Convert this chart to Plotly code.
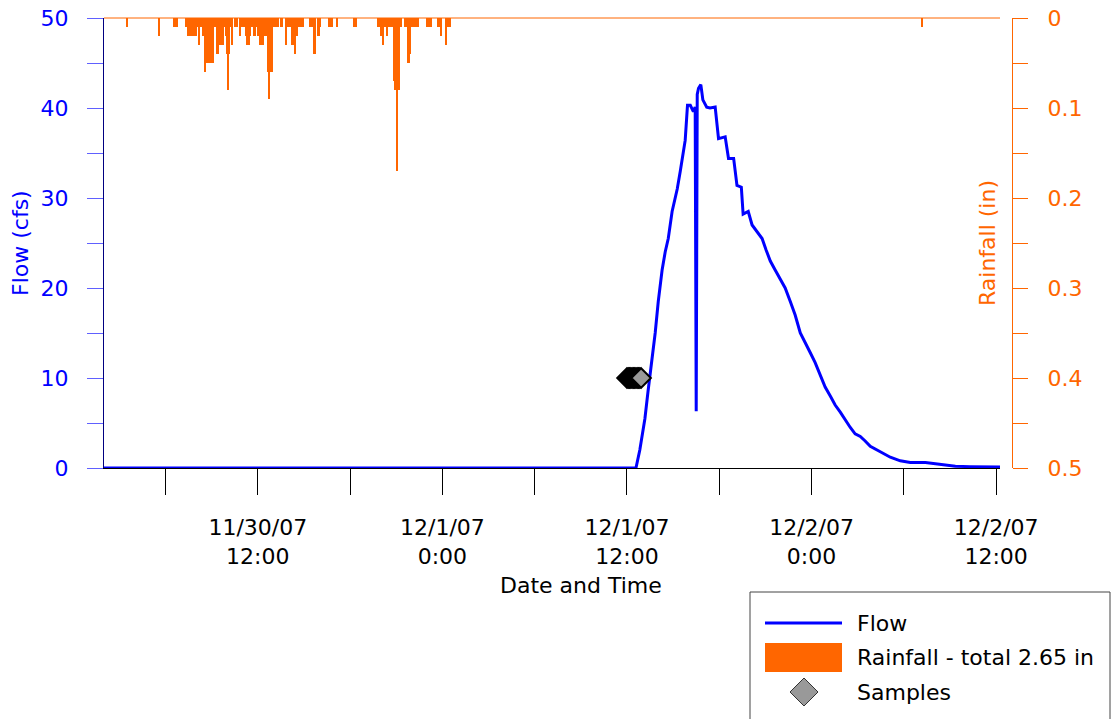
import plotly.graph_objects as go
import pandas as pd

# ---------------- data ----------------
flow_time = [
    "2007-11-30 02:00", "2007-12-01 12:35", "2007-12-01 12:50", "2007-12-01 13:10",
    "2007-12-01 13:22", "2007-12-01 13:38", "2007-12-01 13:50", "2007-12-01 14:02",
    "2007-12-01 14:17", "2007-12-01 14:29", "2007-12-01 14:41", "2007-12-01 14:56",
    "2007-12-01 15:16", "2007-12-01 15:28", "2007-12-01 15:39", "2007-12-01 15:47",
    "2007-12-01 15:56", "2007-12-01 16:07", "2007-12-01 16:19", "2007-12-01 16:26",
    "2007-12-01 16:30", "2007-12-01 16:34", "2007-12-01 16:39", "2007-12-01 16:48",
    "2007-12-01 16:56", "2007-12-01 17:11", "2007-12-01 17:24", "2007-12-01 17:44",
    "2007-12-01 17:57", "2007-12-01 18:23", "2007-12-01 18:36", "2007-12-01 18:56",
    "2007-12-01 19:09", "2007-12-01 19:26", "2007-12-01 19:33", "2007-12-01 19:53",
    "2007-12-01 20:08", "2007-12-01 20:28", "2007-12-01 20:47", "2007-12-01 21:03",
    "2007-12-01 21:19", "2007-12-01 21:38", "2007-12-01 21:58", "2007-12-01 22:17",
    "2007-12-01 22:37", "2007-12-01 22:56", "2007-12-01 23:16", "2007-12-01 23:35",
    "2007-12-01 23:55", "2007-12-02 00:14", "2007-12-02 00:34", "2007-12-02 00:53",
    "2007-12-02 01:13", "2007-12-02 01:32", "2007-12-02 01:52", "2007-12-02 02:11",
    "2007-12-02 02:31", "2007-12-02 02:50", "2007-12-02 03:10", "2007-12-02 03:29",
    "2007-12-02 03:49", "2007-12-02 04:28", "2007-12-02 05:07", "2007-12-02 05:46",
    "2007-12-02 06:25", "2007-12-02 07:24", "2007-12-02 08:22", "2007-12-02 09:21",
    "2007-12-02 10:19", "2007-12-02 12:15",
]
flow_cfs = [
    0.0, 0.0, 2.0, 5.5,
    8.5, 12.0, 15.0, 18.5,
    22.0, 24.0, 25.5, 28.5,
    31.0, 33.0, 35.3, 36.4,
    40.3, 40.3, 39.6, 40.1,
    6.3, 41.5, 42.2, 42.6,
    40.9, 40.1, 40.0, 40.1,
    36.6, 36.8, 34.4, 34.4,
    31.4, 31.2, 28.2, 28.5,
    27.0, 26.2, 25.5, 24.2,
    23.0, 22.0, 21.0, 20.0,
    18.5, 17.0, 15.0, 14.0,
    12.8, 11.7, 10.3, 9.0,
    8.0, 7.0, 6.2, 5.3,
    4.5, 3.8, 3.5, 3.0,
    2.4, 1.8, 1.2, 0.8,
    0.6, 0.6, 0.4, 0.2,
    0.15, 0.1,
]

sample_time = [
    "2007-12-01 12:00", "2007-12-01 12:05", "2007-12-01 12:10", "2007-12-01 12:15",
    "2007-12-01 12:20", "2007-12-01 12:25", "2007-12-01 12:30", "2007-12-01 12:35",
    "2007-12-01 12:40", "2007-12-01 12:45", "2007-12-01 12:50", "2007-12-01 12:55",
]
sample_cfs = [10, 10, 10, 10, 10, 10, 10, 10, 10, 10, 10, 10]

# rainfall in 5-minute bins, given as runs starting at a time
rain_run_start = [
    "2007-11-30 03:30", "2007-11-30 05:35", "2007-11-30 06:35", "2007-11-30 07:20",
    "2007-11-30 15:25", "2007-11-30 16:40", "2007-11-30 17:10", "2007-11-30 18:15",
    "2007-11-30 19:50", "2007-11-30 23:00", "2007-11-30 23:45", "2007-12-02 07:10",
]
rain_run_in = [
    [0.01],
    [0.02],
    [0.01, 0.01, 0.01],
    [0.01, 0.01, 0.02, 0.02, 0.02, 0.02, 0.02, 0.02, 0.02, 0.01, 0.03, 0.01,
     0.01, 0.02, 0.02, 0.06, 0.05, 0.05, 0.04, 0.05, 0.05, 0.05, 0.01, 0.01,
     0.04, 0.04, 0.03, 0.03, 0.02, 0.03, 0.01, 0.02, 0.04, 0.08, 0.04, 0.01,
     0.03, 0.00, 0.01, 0.00, 0.01, 0.00, 0.02, 0.01, 0.01, 0.01, 0.01, 0.02,
     0.03, 0.03, 0.02, 0.01, 0.01, 0.02, 0.02, 0.01, 0.02, 0.02, 0.03, 0.03,
     0.03, 0.02, 0.02, 0.02, 0.06, 0.09, 0.06, 0.06, 0.01, 0.01, 0.01, 0.01,
     0.01, 0.00, 0.01, 0.01, 0.00, 0.00, 0.03, 0.01, 0.01, 0.01, 0.01, 0.03,
     0.03, 0.04, 0.02, 0.02, 0.01, 0.01, 0.01, 0.01],
    [0.01, 0.01, 0.00, 0.04, 0.04, 0.00, 0.02, 0.02, 0.01],
    [0.01, 0.01, 0.01],
    [0.01],
    [0.01, 0.01, 0.01],
    [0.01, 0.01, 0.02, 0.02, 0.03, 0.01, 0.01, 0.02, 0.01, 0.01, 0.01, 0.01,
     0.07, 0.08, 0.08, 0.17, 0.08, 0.01, 0.01, 0.00, 0.00, 0.01, 0.01, 0.05,
     0.05, 0.04, 0.01, 0.01, 0.00, 0.01, 0.01, 0.01],
    [0.01, 0.01, 0.01, 0.01],
    [0.01, 0.01, 0.02, 0.00, 0.00, 0.00, 0.03, 0.01, 0.01, 0.01],
    [0.01],
]

x_tick_vals = [
    "2007-11-30 06:00", "2007-11-30 12:00", "2007-11-30 18:00", "2007-12-01 00:00",
    "2007-12-01 06:00", "2007-12-01 12:00", "2007-12-01 18:00", "2007-12-02 00:00",
    "2007-12-02 06:00", "2007-12-02 12:00",
]
x_tick_text = ["", "11/30/07<br>12:00", "", "12/1/07<br>0:00", "", "12/1/07<br>12:00",
               "", "12/2/07<br>0:00", "", "12/2/07<br>12:00"]
flow_tick_vals = [0, 5, 10, 15, 20, 25, 30, 35, 40, 45, 50]
flow_tick_text = ["0", "", "10", "", "20", "", "30", "", "40", "", "50"]
rain_tick_vals = [0, 0.05, 0.1, 0.15, 0.2, 0.25, 0.3, 0.35, 0.4, 0.45, 0.5]
rain_tick_text = ["0", "", "0.1", "", "0.2", "", "0.3", "", "0.4", "", "0.5"]

# expand rain runs
rain_time, rain_in = [], []
for start, vals in zip(rain_run_start, rain_run_in):
    t0 = pd.Timestamp(start)
    for i, v in enumerate(vals):
        if v > 0:
            rain_time.append(t0 + pd.Timedelta(minutes=5 * i))
            rain_in.append(v)

BLUE = "#0000ff"
ORANGE = "#ff6600"
FONT = "DejaVu Sans, Liberation Sans, Arial, sans-serif"
FS = 22

# pixel helpers for decoration placement (plot area 104..1012 x 18..468)
def px(x):
    return (x - 104) / 908.0

def py(y):
    return (468 - y) / 450.0

fig = go.Figure()
fig.add_trace(go.Bar(x=rain_time, y=rain_in, yaxis="y2", width=300000,
                     marker=dict(color=ORANGE, line=dict(width=0)),
                     showlegend=False, name="Rainfall"))
fig.add_trace(go.Scatter(x=flow_time, y=flow_cfs, mode="lines",
                         line=dict(color=BLUE, width=3), showlegend=False, name="Flow"))
fig.add_trace(go.Scatter(x=sample_time, y=sample_cfs, mode="markers",
                         marker=dict(symbol="diamond", size=15, color="#999999",
                                     line=dict(color="#000000", width=2)),
                         showlegend=False, name="Samples"))

fig.update_layout(
    width=1116, height=719,
    margin=dict(l=104, r=104, t=18, b=251, autoexpand=False),
    paper_bgcolor="white", plot_bgcolor="white",
    font=dict(family=FONT, size=FS, color="black"),
    bargap=0,
    xaxis=dict(domain=[0, 896 / 908], type="date", automargin=False,
               range=["2007-11-30 02:00", "2007-12-02 12:15"],
               tickvals=x_tick_vals, ticktext=x_tick_text,
               ticks="outside", ticklen=26, tickcolor="black", tickwidth=1,
               showline=True, linecolor="black", linewidth=1,
               showgrid=False, zeroline=False, ticklabelstandoff=14,
               tickfont=dict(size=FS, color="black")),
    yaxis=dict(range=[0, 50], tickvals=flow_tick_vals, ticktext=flow_tick_text,
               automargin=False,
               ticks="outside", ticklen=16, tickcolor="#6060ff", tickwidth=1,
               showline=True, linecolor="#000080", linewidth=1,
               showgrid=False, zeroline=False, ticklabelstandoff=14,
               tickfont=dict(size=FS, color=BLUE)),
    yaxis2=dict(range=[0.5, 0], overlaying="y", anchor="free", position=1, side="right",
                automargin=False,
                tickvals=rain_tick_vals, ticktext=rain_tick_text,
                ticks="outside", ticklen=15, tickcolor=ORANGE, tickwidth=1,
                showline=True, linecolor=ORANGE, linewidth=1,
                showgrid=False, zeroline=False, ticklabelstandoff=15,
                tickfont=dict(size=FS, color=ORANGE)),
)

shapes = [
    dict(type="line", xref="paper", yref="paper", x0=0, x1=896 / 908, y0=1, y1=1,
         line=dict(color=ORANGE, width=1), layer="above"),
    # legend box
    dict(type="rect", xref="paper", yref="paper", x0=px(750), x1=px(1110), y0=py(730), y1=py(592),
         line=dict(color="#444444", width=1), fillcolor="white"),
    dict(type="line", xref="paper", yref="paper", x0=px(765), x1=px(842), y0=py(623), y1=py(623),
         line=dict(color=BLUE, width=3)),
    dict(type="rect", xref="paper", yref="paper", x0=px(765), x1=px(842), y0=py(672), y1=py(643),
         line=dict(width=0), fillcolor=ORANGE),
    dict(type="path", xref="paper", yref="paper",
         path=f"M {px(790)},{py(692)} L {px(804)},{py(678)} L {px(818)},{py(692)} L {px(804)},{py(706)} Z",
         line=dict(color="#333333", width=1), fillcolor="#999999"),
]
annotations = [
    dict(text="Flow (cfs)", xref="paper", yref="paper", x=px(20), y=py(243), textangle=-90,
         showarrow=False, font=dict(size=FS, color=BLUE), xanchor="center", yanchor="middle"),
    dict(text="Rainfall (in)", xref="paper", yref="paper", x=px(987), y=py(243), textangle=-90,
         showarrow=False, font=dict(size=FS, color=ORANGE), xanchor="center", yanchor="middle"),
    dict(text="Date and Time", xref="paper", yref="paper", x=px(581), y=py(585),
         showarrow=False, font=dict(size=FS, color="black"), xanchor="center", yanchor="middle"),
    dict(text="Flow", xref="paper", yref="paper", x=px(855), y=py(623),
         showarrow=False, font=dict(size=FS, color="black"), xanchor="left", yanchor="middle"),
    dict(text="Rainfall - total 2.65 in", xref="paper", yref="paper", x=px(855), y=py(657),
         showarrow=False, font=dict(size=FS, color="black"), xanchor="left", yanchor="middle"),
    dict(text="Samples", xref="paper", yref="paper", x=px(855), y=py(692),
         showarrow=False, font=dict(size=FS, color="black"), xanchor="left", yanchor="middle"),
]
fig.update_layout(shapes=shapes, annotations=annotations)

fig.write_html("out.html", config={"displayModeBar": False},
               post_script="document.body.style.margin='0px';document.body.style.overflow='hidden';")
